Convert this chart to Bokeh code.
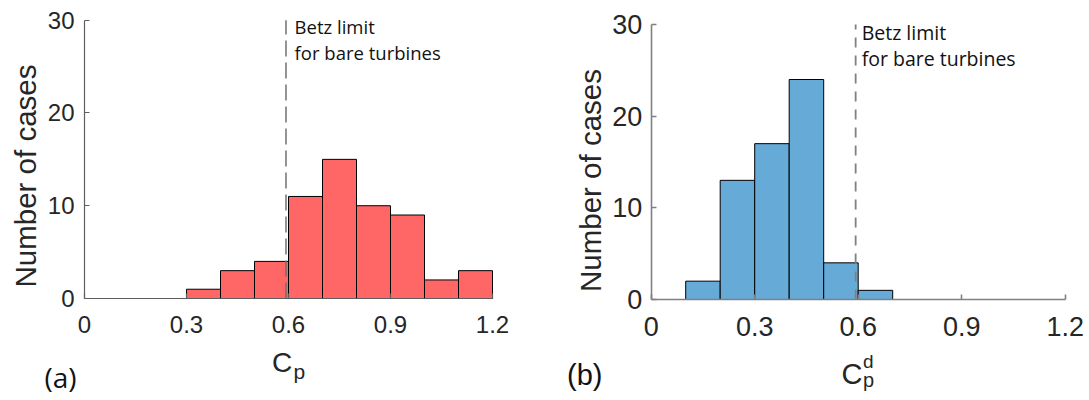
import math
from bokeh.plotting import figure
from bokeh.layouts import row
from bokeh.models import Range1d, FixedTicker, CustomJSTickFormatter, Label
from bokeh.embed import file_html
from bokeh.resources import INLINE

# ---- data ----
bin_width = 0.1
bins_a_left = [0.3, 0.4, 0.5, 0.6, 0.7, 0.8, 0.9, 1.0, 1.1]
counts_a = [1, 3, 4, 11, 15, 10, 9, 2, 3]
bins_b_left = [0.1, 0.2, 0.3, 0.4, 0.5, 0.6]
counts_b = [2, 13, 17, 24, 4, 1]
betz = 16 / 27
x_ticks = [0, 0.3, 0.6, 0.9, 1.2]
y_ticks = [0, 10, 20, 30]
betz_lines = ["Betz limit", "for bare turbines"]

TICK_FONT = "Liberation Sans"
TXT = "#262626"
ORIGIN = 1  # page pixel where the canvases start
CANVAS_H = 398


def make_panel(canvas_x0, width, px_x0, px_x12, px_y0, px_y30,
               tick_size, axis_color, axis_w, standoff_y):
    # frame covers the whole canvas; axes are pinned at data 0
    sx = (px_x12 - px_x0) / 1.2
    sy = (px_y0 - px_y30) / 30.0
    xr = Range1d((canvas_x0 - px_x0) / sx, (canvas_x0 + width - px_x0) / sx)
    yr = Range1d((px_y0 - (ORIGIN + CANVAS_H)) / sy, (px_y0 - ORIGIN) / sy)
    p = figure(width=width, height=CANVAS_H, output_backend="svg", toolbar_location=None,
               x_range=xr, y_range=yr,
               min_border_left=0, min_border_right=0, min_border_top=0, min_border_bottom=0)
    p.outline_line_color = None
    p.xgrid.visible = False
    p.ygrid.visible = False
    p.background_fill_color = "white"
    p.border_fill_color = "white"
    for ax in (p.xaxis[0], p.yaxis[0]):
        ax.fixed_location = 0
        ax.axis_line_color = axis_color
        ax.axis_line_width = axis_w
        ax.major_tick_line_color = axis_color
        ax.major_tick_line_width = axis_w
        ax.major_tick_in = 5
        ax.major_tick_out = 0
        ax.minor_tick_line_color = None
        ax.major_label_text_font = TICK_FONT
        ax.major_label_text_font_size = f"{tick_size}px"
        ax.major_label_text_color = TXT
    p.xaxis.bounds = (x_ticks[0], x_ticks[-1])
    p.yaxis.bounds = (y_ticks[0], y_ticks[-1])
    p.xaxis.ticker = FixedTicker(ticks=x_ticks)
    p.yaxis.ticker = FixedTicker(ticks=y_ticks)
    p.xaxis.formatter = CustomJSTickFormatter(code="return (Math.round(tick*10)/10).toString();")
    p.yaxis.formatter = CustomJSTickFormatter(code="return Math.round(tick).toString();")
    p.xaxis.major_label_standoff = 17
    p.yaxis.major_label_standoff = standoff_y
    return p


def lab(p, x, y, text, font, size, color=TXT, align="left", angle=0):
    p.add_layout(Label(x=x, y=y, text=text, text_font=font, text_font_size=f"{size}px",
                       text_color=color, text_align=align, text_baseline="middle", angle=angle))


# ---------------- panel (a) ----------------
pa = make_panel(ORIGIN, 567, 85, 493, 299, 20.7, 24, "#5e5e5e", 1.2, 10)
pa.quad(left=bins_a_left, right=[b + bin_width for b in bins_a_left], bottom=0, top=counts_a,
        fill_color="#FF6666", line_color="black", line_width=1)
pa.segment(x0=[betz], y0=[y_ticks[0]], x1=[betz], y1=[y_ticks[-1]], line_color="#707070",
           line_width=1.5, line_dash="16 6")
lab(pa, 0.618, 29.31, betz_lines[0], "Open Sans", 18.5, "#111111")
lab(pa, 0.618, 26.54, betz_lines[1], "Open Sans", 18.5, "#111111")
lab(pa, -0.175, 13.2, "Number of cases", TICK_FONT, 29.5, align="center", angle=math.pi / 2)
lab(pa, 0.581, -6.93, "C", TICK_FONT, 28, align="center")
lab(pa, 0.615, -7.84, "p", TICK_FONT, 21)
lab(pa, -0.118, -8.44, "(a)", "Open Sans", 28, "#111111")

# ---------------- panel (b) ----------------
pb = make_panel(ORIGIN + 567, 521, 651.7, 1065.7, 300, 25, 27, "#808080", 1.6, 9)
pb.quad(left=bins_b_left, right=[b + bin_width for b in bins_b_left], bottom=0, top=counts_b,
        fill_color="#66AAD7", line_color="black", line_width=1)
pb.segment(x0=[betz], y0=[y_ticks[0]], x1=[betz], y1=[y_ticks[-1]], line_color="#808080",
           line_width=1.8, line_dash="10 8")
lab(pb, 0.61, 29.12, betz_lines[0], "Open Sans", 19.5, "#111111")
lab(pb, 0.61, 26.28, betz_lines[1], "Open Sans", 19.5, "#111111")
lab(pb, -0.177, 12.98, "Number of cases", TICK_FONT, 29.5, align="center", angle=math.pi / 2)
lab(pb, 0.582, -8.17, "C", TICK_FONT, 29, align="center")
lab(pb, 0.614, -6.81, "d", TICK_FONT, 19)
lab(pb, 0.614, -8.78, "p", TICK_FONT, 20)
lab(pb, -0.244, -8.28, "(b)", TICK_FONT, 29, "#111111")

layout = row(pa, pb)
open("out.html", "w").write(file_html(layout, INLINE))
